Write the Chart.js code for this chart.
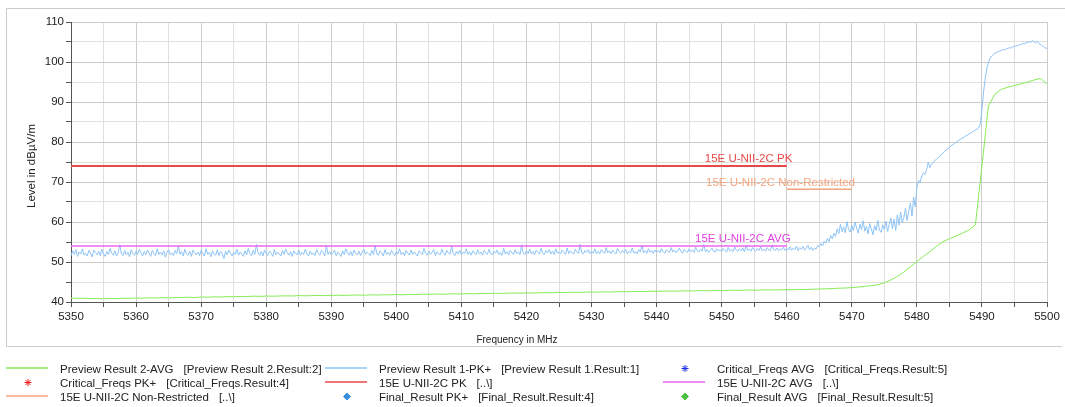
<!DOCTYPE html>
<html>
<head>
<meta charset="utf-8">
<title>Band edge scan 5350 - 5500 MHz</title>
<script src="https://cdn.jsdelivr.net/npm/chart.js@4.4.1/dist/chart.umd.min.js"></script>
<style>
  html, body { margin: 0; padding: 0; background: #fff; }
  canvas { display: block; }
</style>
</head>
<body>
<canvas id="scanChart" width="1065" height="407"></canvas>
<script>
// Sweep settings
const sweepStartMHz = 5350;
const pkStepMHz = 0.25;
const avgStepMHz = 1;

// Preview Result 1-PK+ (one value every 0.25 MHz, 5350 .. 5500, one row = 5 MHz)
const previewPkLevels = [
  51.6, 52.8, 51.9, 53.1, 51.4, 52.5, 52.0, 53.3, 51.7, 52.2, 51.5, 52.9, 52.1, 51.3, 53.0, 52.4, 51.8, 52.7, 51.6, 53.2,
  52.0, 51.4, 52.6, 51.9, 53.4, 52.2, 51.7, 52.8, 51.5, 52.3, 54.3, 52.0, 51.6, 52.9, 51.8, 52.4, 51.3, 53.1, 52.1, 51.7,
  52.7, 51.9, 53.2, 52.3, 51.5, 52.6, 51.8, 53.0, 52.2, 51.4, 52.9, 52.0, 51.6, 53.3, 51.9, 52.5, 51.7, 52.8, 51.2, 52.4,
  53.1, 51.8, 52.3, 51.6, 52.9, 52.1, 54.0, 51.9, 52.6, 51.5, 53.2, 52.0, 51.7, 52.7, 51.4, 53.0, 52.3, 51.8, 52.5, 51.6,
  52.9, 52.2, 51.5, 53.3, 51.9, 52.4, 51.3, 52.8, 52.0, 51.7, 53.1, 51.6, 52.6, 52.1, 50.9, 52.7, 51.8, 53.0, 52.2, 51.5,
  52.4, 51.9, 53.2, 51.7, 52.5, 52.0, 51.4, 52.8, 51.8, 53.4, 52.1, 51.6, 52.9, 51.9, 54.4, 52.3, 51.7, 52.6, 51.5, 53.0,
  52.0, 51.6, 52.7, 52.2, 51.4, 53.1, 51.8, 52.5, 52.0, 51.5, 52.9, 51.9, 53.3, 52.2, 51.7, 52.6, 51.4, 52.8, 52.1, 51.8,
  53.0, 51.7, 52.4, 51.9, 53.2, 52.0, 51.5, 52.7, 51.8, 52.3, 51.6, 53.1, 52.1, 51.7, 52.9, 52.4, 51.5, 54.1, 51.9, 52.6,
  51.8, 52.3, 53.0, 51.6, 52.5, 52.0, 51.4, 52.8, 51.9, 53.3, 52.2, 51.7, 52.6, 51.5, 53.0, 52.1, 51.8, 52.7, 51.6, 52.4,
  53.2, 51.9, 52.5, 52.1, 51.6, 52.9, 51.8, 54.2, 52.0, 51.7, 52.8, 52.3, 51.5, 53.1, 51.9, 52.4, 51.7, 52.9, 52.2, 51.6,
  52.6, 52.0, 53.3, 51.8, 52.4, 51.6, 52.9, 52.2, 51.7, 53.0, 51.9, 52.5, 52.0, 51.5, 52.8, 52.3, 51.8, 53.4, 52.1, 51.7,
  52.7, 51.9, 52.4, 53.1, 51.6, 52.6, 52.0, 51.8, 53.2, 52.2, 51.7, 52.9, 52.3, 51.9, 54.0, 52.1, 51.6, 52.7, 52.0, 53.0,
  51.8, 52.5, 52.1, 53.3, 51.9, 52.6, 51.7, 52.8, 52.2, 51.8, 53.1, 52.0, 52.5, 51.7, 52.9, 52.3, 51.9, 53.2, 52.1, 51.8,
  52.7, 52.2, 53.0, 51.9, 52.4, 51.7, 53.4, 52.0, 52.6, 51.8, 52.9, 52.3, 51.9, 53.1, 52.1, 52.5, 51.8, 54.3, 52.2, 51.9,
  52.8, 52.1, 53.2, 52.0, 52.6, 51.8, 53.0, 52.4, 52.0, 53.4, 52.2, 51.9, 52.9, 52.3, 53.1, 52.0, 52.7, 51.9, 53.3, 52.2,
  52.5, 52.0, 53.0, 52.4, 51.9, 53.5, 52.1, 52.8, 52.3, 52.0, 53.2, 52.5, 52.1, 54.4, 52.3, 52.0, 52.9, 52.4, 53.1, 52.1,
  52.6, 52.2, 53.3, 52.1, 52.7, 52.0, 53.1, 52.5, 52.2, 53.6, 52.3, 52.8, 52.1, 53.0, 52.4, 52.0, 53.4, 52.6, 52.2, 52.9,
  52.4, 53.2, 52.1, 52.7, 52.3, 53.5, 52.2, 52.6, 52.0, 53.1, 52.5, 54.2, 52.3, 52.8, 52.2, 53.3, 52.4, 52.9, 52.1, 53.0,
  52.5, 52.9, 52.3, 53.4, 52.6, 52.2, 53.1, 52.7, 52.4, 53.6, 52.5, 53.0, 52.3, 52.8, 53.5, 52.6, 52.2, 53.2, 52.7, 52.4,
  53.3, 52.6, 53.0, 52.4, 53.7, 52.8, 52.5, 53.2, 52.7, 54.4, 52.6, 53.1, 52.4, 52.9, 53.5, 52.7, 52.5, 53.3, 52.8, 53.0,
  52.6, 53.4, 52.9, 52.5, 53.6, 52.8, 53.1, 52.6, 53.8, 52.9, 52.7, 53.3, 52.8, 53.5, 52.6, 54.1, 52.9, 53.2, 52.7, 53.6,
  53.0, 52.7, 53.4, 52.9, 53.8, 52.8, 53.2, 52.7, 53.6, 53.0, 52.8, 54.3, 53.1, 52.9, 53.5, 52.8, 53.3, 53.0, 53.7, 52.9,
  53.4, 53.0, 53.8, 52.9, 53.5, 53.1, 54.0, 52.8, 53.6, 53.2, 53.9, 53.0, 53.4, 54.2, 53.1, 53.7, 52.9, 53.5, 53.2, 54.1,
  53.8, 54.6, 54.0, 55.2, 54.7, 55.9, 55.1, 56.6, 55.8, 57.2, 56.4, 58.3, 57.1, 59.4, 57.6, 58.8, 57.3, 60.1, 58.2, 57.5,
  59.2, 57.8, 60.0, 58.4, 57.2, 59.5, 58.1, 60.3, 57.7, 58.9, 57.0, 59.6, 58.3, 56.8, 59.1, 57.9, 60.4, 58.0, 57.4, 59.3,
  58.1, 60.2, 57.6, 59.4, 61.0, 58.3, 60.7, 57.9, 61.8, 59.2, 62.5, 59.8, 61.1, 63.4, 60.4, 62.6, 64.8, 61.5, 66.2, 63.8,
  68.6, 70.4, 69.8, 71.5, 72.3, 71.9, 73.1, 74.9, 73.6, 74.4, 74.9, 75.3, 75.7, 76.1, 76.4, 76.9, 77.2, 77.6, 78.0, 78.3,
  78.6, 79.0, 79.3, 79.6, 79.9, 80.2, 80.5, 80.7, 81.0, 81.2, 81.5, 81.7, 82.0, 82.2, 82.5, 82.7, 83.0, 83.2, 83.5, 84.6,
  88.0, 92.5, 95.8, 98.4, 99.9, 100.9, 101.5, 101.9, 102.2, 102.4, 102.6, 102.8, 102.9, 103.1, 103.0, 103.3, 103.4, 103.6, 103.5, 103.8,
  103.9, 104.1, 104.0, 104.3, 104.4, 104.6, 104.5, 104.8, 104.9, 105.1, 104.9, 105.4, 105.0, 104.8, 105.2, 104.6, 104.4, 104.1, 103.8, 103.5,
  103.4
];

// Preview Result 2-AVG (one value every 1 MHz, 5350 .. 5500)
const previewAvgLevels = [
  41.0, 40.9, 40.95, 40.85, 40.9, 40.8, 40.9, 40.85, 40.95, 40.9,
  41.0, 40.95, 41.05, 41.0, 41.1, 41.0, 41.15, 41.1, 41.2, 41.1,
  41.25, 41.2, 41.3, 41.25, 41.35, 41.3, 41.4, 41.35, 41.45, 41.4,
  41.5, 41.45, 41.5, 41.55, 41.5, 41.6, 41.55, 41.6, 41.65, 41.6,
  41.65, 41.7, 41.65, 41.7, 41.75, 41.7, 41.8, 41.75, 41.8, 41.8,
  41.85, 41.8, 41.9, 41.85, 41.95, 41.9, 42.0, 41.95, 42.0, 42.05,
  42.0, 42.1, 42.05, 42.15, 42.1, 42.2, 42.15, 42.2, 42.25, 42.2,
  42.3, 42.25, 42.3, 42.35, 42.3, 42.4, 42.35, 42.45, 42.4, 42.45,
  42.5, 42.45, 42.55, 42.5, 42.6, 42.55, 42.6, 42.65, 42.6, 42.7,
  42.65, 42.7, 42.75, 42.7, 42.8, 42.75, 42.8, 42.85, 42.8, 42.9,
  42.85, 42.9, 42.95, 42.9, 43.0, 42.95, 43.0, 43.05, 43.0, 43.05,
  43.1, 43.05, 43.15, 43.1, 43.2, 43.25, 43.3, 43.35, 43.45, 43.5,
  43.6, 43.75, 43.9, 44.1, 44.3, 44.8, 45.5, 46.4, 47.5, 48.8,
  50.1, 51.4, 52.6, 53.9, 55.1, 55.8, 56.5, 57.2, 58.0, 59.3,
  74.0, 89.0, 92.0, 93.2, 93.7, 94.1, 94.5, 95.0, 95.5, 95.9, 94.5
];

// Limit lines
const limitFreqs = [5350, 5460];
const pkLimitLevel = 74;
const avgLimitLevel = 54;
const nonRestrictedFreqs = [5460, 5470];
const nonRestrictedLevel = 68.2;

// Legend text (second part shown in brackets)
const legendRefs = [
  '[Preview Result 2.Result:2]', '[Preview Result 1.Result:1]', '[Critical_Freqs.Result:5]',
  '[Critical_Freqs.Result:4]', '[..\\]', '[..\\]',
  '[..\\]', '[Final_Result.Result:4]', '[Final_Result.Result:5]'
];

const FONT = '"Liberation Sans", Arial, sans-serif';

function sweep(levels, step) {
  return levels.map((v, i) => ({ x: sweepStartMHz + i * step, y: v }));
}

function flatLine(freqs, level) {
  return freqs.map(f => ({ x: f, y: level }));
}

// White background + outer frame
const framePlugin = {
  id: 'frame',
  beforeDraw(chart) {
    const ctx = chart.ctx;
    ctx.save();
    ctx.fillStyle = '#fff';
    ctx.fillRect(0, 0, chart.width, chart.height);
    ctx.strokeStyle = '#cccccc';
    ctx.lineWidth = 1;
    ctx.beginPath();
    ctx.moveTo(chart.width, 8.5);
    ctx.lineTo(6.5, 8.5);
    ctx.lineTo(6.5, 346.5);
    ctx.lineTo(1062, 346.5);
    ctx.stroke();
    ctx.restore();
  }
};

// Axis titles and limit line labels
const annotatePlugin = {
  id: 'annotate',
  afterDatasetsDraw(chart) {
    const ctx = chart.ctx;
    const xs = chart.scales.x, ys = chart.scales.y;
    const area = chart.chartArea;
    ctx.save();
    ctx.fillStyle = '#222';
    ctx.textBaseline = 'middle';
    ctx.textAlign = 'center';

    ctx.font = '10px ' + FONT;
    ctx.fillText('Frequency in MHz', 517, 340);

    ctx.save();
    ctx.translate(32, (area.top + area.bottom) / 2 + 4);
    ctx.rotate(-Math.PI / 2);
    ctx.font = '11.5px ' + FONT;
    ctx.fillText('Level in dB\u00B5V/m', 0, 0);
    ctx.restore();

    const labels = [
      { text: '15E U-NII-2C PK', at: 5447.4, level: pkLimitLevel, color: '#e84848' },
      { text: '15E U-NII-2C Non-Restricted', at: 5447.6, level: nonRestrictedLevel, color: '#f6a47c' },
      { text: '15E U-NII-2C AVG', at: 5445.9, level: avgLimitLevel, color: '#e040e0' }
    ];
    ctx.font = '11.5px ' + FONT;
    ctx.textAlign = 'left';
    ctx.textBaseline = 'bottom';
    labels.forEach(l => {
      ctx.fillStyle = l.color;
      ctx.fillText(l.text, xs.getPixelForValue(l.at), ys.getPixelForValue(l.level) - 1);
    });
    ctx.restore();
  }
};

// Three-column legend below the frame
const legendPlugin = {
  id: 'scanLegend',
  afterDraw(chart) {
    const ctx = chart.ctx;
    const cols = [6, 325, 663];
    const rows = [369.5, 383.5, 397.5];
    ctx.save();
    ctx.font = '11.5px ' + FONT;
    ctx.textBaseline = 'middle';
    ctx.textAlign = 'left';
    chart.data.datasets.forEach((ds, i) => {
      const x0 = cols[i % 3];
      const y = rows[Math.floor(i / 3)];
      if (ds.showLine === false) {
        ctx.fillStyle = ds.pointBackgroundColor;
        ctx.strokeStyle = ds.pointBorderColor;
        ctx.lineWidth = 1;
        Chart.helpers.drawPoint(ctx, { pointStyle: ds.pointStyle, radius: 3.5, borderWidth: 1, rotation: 0 }, x0 + 22, y - 1);
      } else {
        ctx.strokeStyle = ds.borderColor;
        ctx.lineWidth = 1.5;
        ctx.beginPath();
        ctx.moveTo(x0, y - 1.5);
        ctx.lineTo(x0 + 42, y - 1.5);
        ctx.stroke();
      }
      ctx.fillStyle = '#222';
      ctx.fillText(ds.label, x0 + 54, y);
      const w = ctx.measureText(ds.label).width;
      ctx.fillText(legendRefs[i], x0 + 54 + w + 10, y);
    });
    ctx.restore();
  }
};

function gridColor(context) {
  const v = context.tick ? context.tick.value : 0;
  return v % 10 === 0 ? '#cdcdcd' : '#e0e0e0';
}

const ctx = document.getElementById('scanChart');

new Chart(ctx, {
  type: 'line',
  data: {
    datasets: [
      {
        label: 'Preview Result 2-AVG',
        data: sweep(previewAvgLevels, avgStepMHz),
        borderColor: '#86ec58',
        borderWidth: 1,
        pointRadius: 0,
        order: 5
      },
      {
        label: 'Preview Result 1-PK+',
        data: sweep(previewPkLevels, pkStepMHz),
        borderColor: '#8ec4f8',
        borderWidth: 1,
        pointRadius: 0,
        order: 4
      },
      {
        label: 'Critical_Freqs AVG',
        data: [],
        showLine: false,
        pointStyle: 'star',
        pointBackgroundColor: '#1f2fe0',
        pointBorderColor: '#1f2fe0'
      },
      {
        label: 'Critical_Freqs PK+',
        data: [],
        showLine: false,
        pointStyle: 'star',
        pointBackgroundColor: '#ee2222',
        pointBorderColor: '#ee2222'
      },
      {
        label: '15E U-NII-2C PK',
        data: flatLine(limitFreqs, pkLimitLevel),
        borderColor: '#e84848',
        borderWidth: 2,
        pointRadius: 0,
        order: 1
      },
      {
        label: '15E U-NII-2C AVG',
        data: flatLine(limitFreqs, avgLimitLevel),
        borderColor: '#ee66ee',
        borderWidth: 1.5,
        pointRadius: 0,
        order: 2
      },
      {
        label: '15E U-NII-2C Non-Restricted',
        data: flatLine(nonRestrictedFreqs, nonRestrictedLevel),
        borderColor: '#f6a47c',
        borderWidth: 1.5,
        pointRadius: 0,
        order: 3
      },
      {
        label: 'Final_Result PK+',
        data: [],
        showLine: false,
        pointStyle: 'rectRot',
        pointBackgroundColor: '#3a8ede',
        pointBorderColor: '#3a8ede'
      },
      {
        label: 'Final_Result AVG',
        data: [],
        showLine: false,
        pointStyle: 'rectRot',
        pointBackgroundColor: '#4cc040',
        pointBorderColor: '#4cc040'
      }
    ]
  },
  options: {
    responsive: false,
    devicePixelRatio: 1,
    animation: false,
    layout: {
      padding: { top: 22, right: 18, left: 0, bottom: 0 }
    },
    plugins: {
      legend: { display: false },
      tooltip: { enabled: false },
      title: { display: false }
    },
    scales: {
      x: {
        type: 'linear',
        min: 5350,
        max: 5500,
        afterFit: scale => { scale.height = 105; },
        ticks: {
          stepSize: 5,
          autoSkip: false,
          maxRotation: 0,
          padding: 3,
          color: '#222',
          font: { family: FONT, size: 11.5 },
          callback: v => (v % 10 === 0 ? String(v) : '')
        },
        grid: {
          color: gridColor,
          tickColor: '#555',
          tickLength: 5
        },
        border: { color: '#555' }
      },
      y: {
        min: 40,
        max: 110,
        afterFit: scale => { scale.width = 71; },
        ticks: {
          stepSize: 5,
          padding: 2,
          color: '#222',
          font: { family: FONT, size: 11.5 },
          callback: v => (v % 10 === 0 ? String(v) : '')
        },
        grid: {
          color: gridColor,
          tickColor: '#555',
          tickLength: 5
        },
        border: { color: '#555' }
      }
    }
  },
  plugins: [framePlugin, annotatePlugin, legendPlugin]
});
</script>
</body>
</html>
